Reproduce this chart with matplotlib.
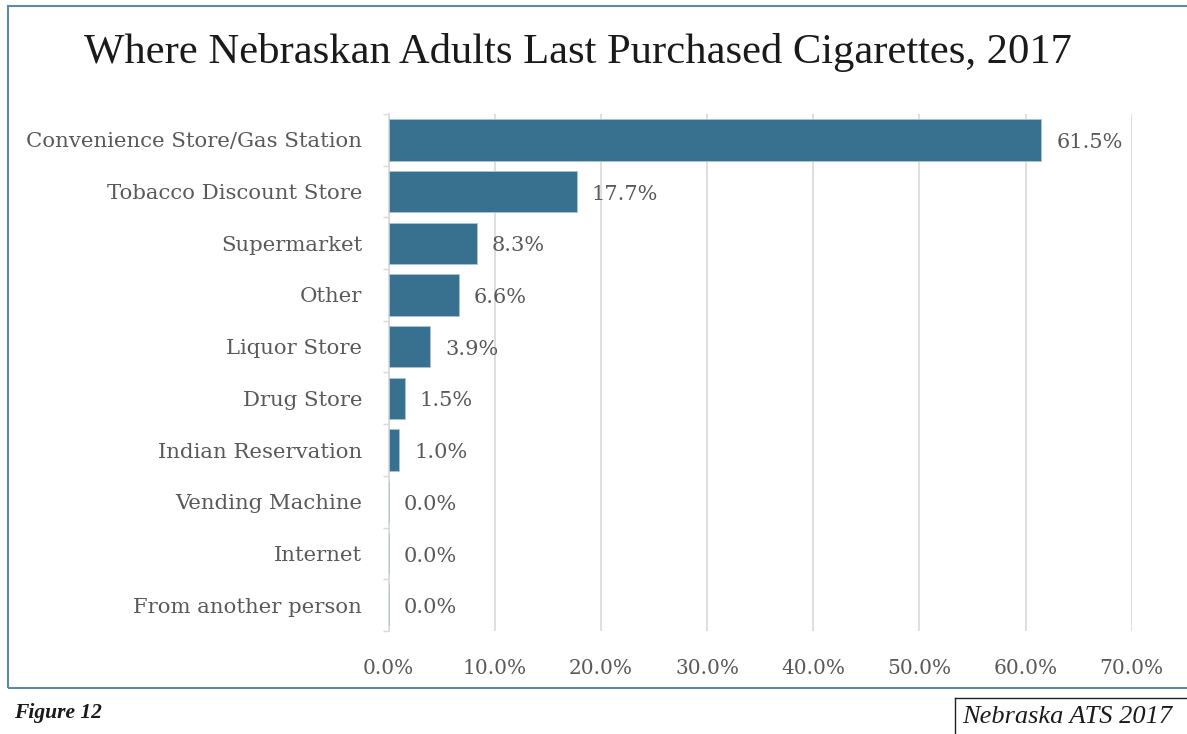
import matplotlib.pyplot as plt
from matplotlib.patches import Rectangle
from matplotlib.lines import Line2D

# Where cigarettes were last purchased (percent of adults who smoke)
places = ['Convenience Store/Gas Station', 'Tobacco Discount Store', 'Supermarket',
          'Other', 'Liquor Store', 'Drug Store', 'Indian Reservation',
          'Vending Machine', 'Internet', 'From another person']
shares = [61.5, 17.7, 8.3, 6.6, 3.9, 1.5, 1.0, 0.0, 0.0, 0.0]
x_ticks = [0, 10, 20, 30, 40, 50, 60, 70]

bar_color = '#38718f'
text_gray = '#595959'
grid_gray = '#d9d9d9'
serif = 'Liberation Serif'
label_font = 'DejaVu Serif'

fig = plt.figure(figsize=(11.87, 7.34), dpi=100)
ax = fig.add_axes([388.7 / 1187, 1 - 631 / 734, (1131.7 - 388.7) / 1187, (631 - 114) / 734])

ypos = list(range(len(places)))
ax.barh(ypos, shares, height=0.8, color=bar_color, edgecolor='#a9c4d3', linewidth=0.6, zorder=3)
ax.set_ylim(len(places) - 0.5, -0.5)
ax.set_xlim(0, 70)

for y, v in zip(ypos, shares):
    ax.text(v + 1.4, y + 0.05, f'{v:.1f}%', va='center', ha='left',
            fontsize=15, color=text_gray, family=label_font)

ax.set_xticks(x_ticks)
ax.set_xticklabels([f'{t:.1f}%' for t in x_ticks], fontsize=14.5, color=text_gray, family=label_font)
ax.tick_params(axis='x', length=0, pad=20)
ax.set_yticks(ypos)
ax.set_yticklabels(places, fontsize=15.3, color=text_gray, family=label_font)
ax.tick_params(axis='y', length=0, pad=19)
# small category separator ticks on the left of the axis
ax.set_yticks([i - 0.5 for i in range(len(places) + 1)], minor=True)
ax.tick_params(axis='y', which='minor', length=4, color=grid_gray, width=1)

ax.grid(axis='x', color=grid_gray, linewidth=1.2, zorder=0)
for s in ['top', 'right', 'bottom']:
    ax.spines[s].set_visible(False)
ax.spines['left'].set_color(grid_gray)
ax.spines['left'].set_linewidth(1.2)

# outer frame around the chart
fig.add_artist(Rectangle((8 / 1187, 1 - 688 / 734), 1.2, (688 - 6) / 734,
                         transform=fig.transFigure, fill=False,
                         edgecolor='#5b8aa6', linewidth=1.5))

fig.text(578 / 1187, 1 - 53 / 734, 'Where Nebraskan Adults Last Purchased Cigarettes, 2017',
         ha='center', va='center', fontsize=30.7, color='#1a1a1a', family=serif)
fig.text(14 / 1187, 1 - 713 / 734, 'Figure 12', ha='left', va='center',
         fontsize=15.5, fontweight='bold', style='italic', color='#1a1a1a', family=serif)

# source box at bottom right
fig.add_artist(Line2D([955 / 1187, 955 / 1187], [0, 1 - 698 / 734],
                      transform=fig.transFigure, color='#222222', linewidth=1))
fig.add_artist(Line2D([955 / 1187, 1], [1 - 698 / 734, 1 - 698 / 734],
                      transform=fig.transFigure, color='#222222', linewidth=1))
fig.text(962 / 1187, 1 - 717 / 734, 'Nebraska ATS 2017', ha='left', va='center',
         fontsize=19, style='italic', color='#1a1a1a', family=serif)

fig.savefig('out.png', dpi=100)
